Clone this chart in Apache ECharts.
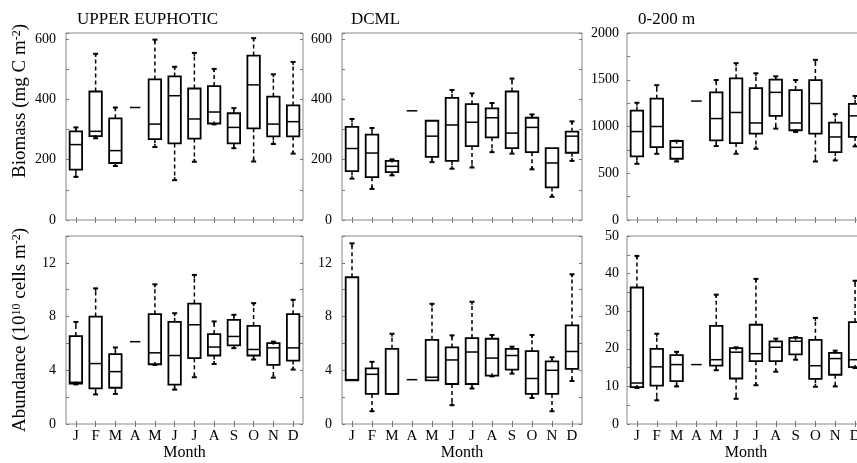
<!DOCTYPE html>
<html>
<head>
<meta charset="utf-8">
<script src="https://cdn.jsdelivr.net/npm/echarts@6/dist/echarts.min.js"></script>
<style>
html,body{margin:0;padding:0;background:#fff;}
#chart{width:857px;height:463px;}
</style>
</head>
<body>
<div id="chart"></div>
<script>
// ---- data: each month = [min, q1, median, q3, max] ----
const months = ['J','F','M','A','M','J','J','A','S','O','N','D'];
const panelTitles = ['UPPER EUPHOTIC','DCML','0-200 m'];

const ueBiomass = [
  [143,167,250,294,307],[271,278,294,426,551],[179,189,230,337,373],[373,373,373,373,373],
  [242,268,318,466,598],[132,254,412,476,508],[193,270,335,436,554],[317,320,358,444,501],
  [238,254,307,354,371],[194,304,448,545,603],[252,277,318,409,483],[220,277,326,380,524]
];
const dcmlBiomass = [
  [137,162,237,309,335],[103,142,222,283,305],[148,159,178,196,201],[362,362,362,362,362],
  [192,209,278,329,329],[170,196,315,405,431],[174,245,324,384,420],[225,274,339,370,388],
  [220,238,288,426,469],[168,225,307,339,350],[77,108,189,238,238],[196,223,278,293,327]
];
const totBiomass = [
  [601,680,946,1170,1254],[708,780,1000,1298,1442],[626,655,777,845,848],[1272,1272,1272,1272,1272],
  [791,852,1085,1365,1497],[708,823,1150,1515,1677],[762,924,1038,1411,1569],[977,1114,1365,1501,1537],
  [942,960,1038,1390,1497],[626,924,1246,1497,1713],[637,726,888,1042,1132],[787,888,1114,1243,1326]
];
const ueAbund = [
  [2.95,3.0,3.1,6.55,7.6],[2.2,2.65,4.5,8.0,10.1],[2.24,2.7,3.9,5.2,5.7],[6.13,6.13,6.13,6.13,6.13],
  [4.4,4.45,5.3,8.18,10.4],[2.56,2.93,5.1,7.6,8.25],[3.48,4.9,7.39,8.97,11.1],[4.47,5.1,5.73,6.7,7.64],
  [5.65,5.85,6.52,7.76,8.13],[4.8,5.1,5.55,7.3,9.0],[3.45,4.4,5.67,6.03,6.13],[4.05,4.72,5.67,8.18,9.25]
];
const dcmlAbund = [
  [3.25,3.25,3.3,10.93,13.45],[0.95,2.24,3.7,4.14,4.63],[2.24,2.24,2.24,5.6,6.72],[3.3,3.3,3.3,3.3,3.3],
  [3.25,3.25,3.48,6.27,8.95],[1.4,2.98,4.77,5.7,6.6],[2.64,2.98,5.36,6.4,9.1],[3.55,3.6,4.91,6.35,6.63],
  [3.75,4.05,5.1,5.6,5.76],[1.94,2.24,3.39,5.42,6.63],[0.95,2.24,4.0,4.67,4.97],[3.2,4.1,5.4,7.34,11.15]
];
const totAbund = [
  [9.6,9.8,10.9,36.3,44.7],[6.3,10.2,15.2,20.0,24.0],[10.0,11.4,15.8,18.3,19.2],[15.8,15.8,15.8,15.8,15.8],
  [14.3,15.5,17.1,26.1,34.4],[6.7,12.1,19.1,20.2,20.4],[10.3,16.7,18.7,26.4,38.6],[13.9,16.7,20.4,22.0,22.7],
  [17.1,18.5,22.0,22.9,23.1],[9.9,12.0,15.5,22.4,28.2],[10.0,13.1,17.4,18.9,19.5],[14.9,15.1,17.1,27.1,38.1]
];
// y scales: [max, tick interval, label step]
const yScales = [[620,100,200],[620,100,200],[2000,250,500],[14,2,4],[14,2,4],[50,5,10]];
const panelData = [ueBiomass, dcmlBiomass, totBiomass, ueAbund, dcmlAbund, totAbund];

// ---- layout ----
const FONT = '"Liberation Serif", "Times New Roman", serif';
const cols = [{left:66,width:237},{left:342,width:240},{left:627,width:238}];
const rows = [{top:33,height:187},{top:236,height:188}];

function renderBox(params, api) {
  const x = api.value(0);
  const lo = api.value(1), q1 = api.value(2), med = api.value(3), q3 = api.value(4), hi = api.value(5);
  const pLo = api.coord([x, lo]), pQ1 = api.coord([x, q1]), pMed = api.coord([x, med]);
  const pQ3 = api.coord([x, q3]), pHi = api.coord([x, hi]);
  const cx = pMed[0];
  const bw = api.size([1, 0])[0] * 0.63;
  const cw = 2.5;
  const ch = [];
  const dash = {stroke:'#000', lineWidth:1.5, lineDash:[4,3], fill:null};
  const cap = {stroke:'#000', lineWidth:2, fill:null};
  if (hi > q3) {
    ch.push({type:'line', shape:{x1:cx,y1:pQ3[1],x2:cx,y2:pHi[1]}, style:dash});
    ch.push({type:'line', shape:{x1:cx-cw,y1:pHi[1],x2:cx+cw,y2:pHi[1]}, style:cap});
    ch.push({type:'line', shape:{x1:cx,y1:pHi[1],x2:cx,y2:pHi[1]+3}, style:{stroke:'#000',lineWidth:1.5}});
  }
  if (lo < q1) {
    ch.push({type:'line', shape:{x1:cx,y1:pQ1[1],x2:cx,y2:pLo[1]}, style:dash});
    ch.push({type:'line', shape:{x1:cx-cw,y1:pLo[1],x2:cx+cw,y2:pLo[1]}, style:cap});
    ch.push({type:'line', shape:{x1:cx,y1:pLo[1],x2:cx,y2:pLo[1]-3}, style:{stroke:'#000',lineWidth:1.5}});
  }
  if (q3 > q1) {
    ch.push({type:'rect', shape:{x:cx-bw/2, y:pQ3[1], width:bw, height:pQ1[1]-pQ3[1]},
      style:{fill:null, stroke:'#000', lineWidth:1.8}});
    ch.push({type:'line', shape:{x1:cx-bw/2,y1:pMed[1],x2:cx+bw/2,y2:pMed[1]}, style:{stroke:'#000',lineWidth:1.5}});
  } else {
    ch.push({type:'line', shape:{x1:cx-bw*0.42,y1:pMed[1],x2:cx+bw*0.42,y2:pMed[1]}, style:{stroke:'#000',lineWidth:1.5}});
  }
  return {type:'group', children:ch};
}

const grid = [], xAxis = [], yAxis = [], series = [];
for (let r = 0; r < 2; r++) {
  for (let c = 0; c < 3; c++) {
    const p = r * 3 + c;
    grid.push(Object.assign({top:rows[r].top, height:rows[r].height,
      show:true, borderColor:'#888', borderWidth:1, backgroundColor:'transparent',
      containLabel:false, outerBoundsMode:'none'}, cols[c]));
    const tick = {show:true, inside:true, length:3, alignWithLabel:true, lineStyle:{color:'#777', width:1}};
    xAxis.push({type:'category', gridIndex:p, data:months, position:'bottom', boundaryGap:true,
      axisLine:{show:false}, axisTick:tick, splitLine:{show:false},
      axisLabel:{show:r===1, interval:0, color:'#000', fontFamily:FONT, fontSize:15, margin:5},
      name: r===1 ? 'Month' : '', nameLocation:'middle', nameGap:18,
      nameTextStyle:{color:'#000', fontFamily:FONT, fontSize:16}});
    xAxis.push({type:'category', gridIndex:p, data:months, position:'top', boundaryGap:true,
      axisLine:{show:false}, axisTick:tick, axisLabel:{show:false}, splitLine:{show:false}});
    const [mx, iv, step] = yScales[p];
    const ytick = {show:true, inside:true, length:3, lineStyle:{color:'#777', width:1}};
    yAxis.push({type:'value', gridIndex:p, min:0, max:mx, interval:iv, position:'left',
      axisLine:{show:false}, axisTick:ytick, splitLine:{show:false},
      axisLabel:{color:'#000', fontFamily:FONT, fontSize:14, margin: c===2 ? 8 : 10,
        formatter: v => (Math.abs(v / step - Math.round(v / step)) < 1e-9 ? String(v) : '')}});
    yAxis.push({type:'value', gridIndex:p, min:0, max:mx, interval:iv, position:'right',
      axisLine:{show:false}, axisTick:ytick, axisLabel:{show:false}, splitLine:{show:false}});
    series.push({type:'custom', xAxisIndex:2*p, yAxisIndex:2*p, clip:false,
      encode:{x:0, y:[1,2,3,4,5]},
      data: panelData[p].map((d, i) => [i].concat(d)),
      renderItem: renderBox});
  }
}

const titleX = [77, 351, 638];
const graphic = panelTitles.map((t, i) => ({
  type:'text', left:titleX[i], top:11,
  style:{text:t, font:'17px ' + FONT, fill:'#000'}
}));
const supFont = '12px ' + FONT;
graphic.push({
  type:'text', x:20, y:101, rotation:Math.PI/2,
  style:{text:'Biomass (mg C m{s|-2})', font:'19px ' + FONT, fill:'#000',
    textAlign:'center', textVerticalAlign:'middle', align:'center', verticalAlign:'middle',
    rich:{s:{font:supFont, fill:'#000', verticalAlign:'top', lineHeight:12}}}
});
graphic.push({
  type:'text', x:20, y:330, rotation:Math.PI/2,
  style:{text:'Abundance (10{s|10} cells m{s|-2})', font:'19px ' + FONT, fill:'#000',
    textAlign:'center', textVerticalAlign:'middle', align:'center', verticalAlign:'middle',
    rich:{s:{font:supFont, fill:'#000', verticalAlign:'top', lineHeight:12}}}
});

const chart = echarts.init(document.getElementById('chart'), null, {renderer:'canvas'});
chart.setOption({
  backgroundColor:'#fff',
  animation:false,
  grid, xAxis, yAxis, series, graphic
});
</script>
</body>
</html>
